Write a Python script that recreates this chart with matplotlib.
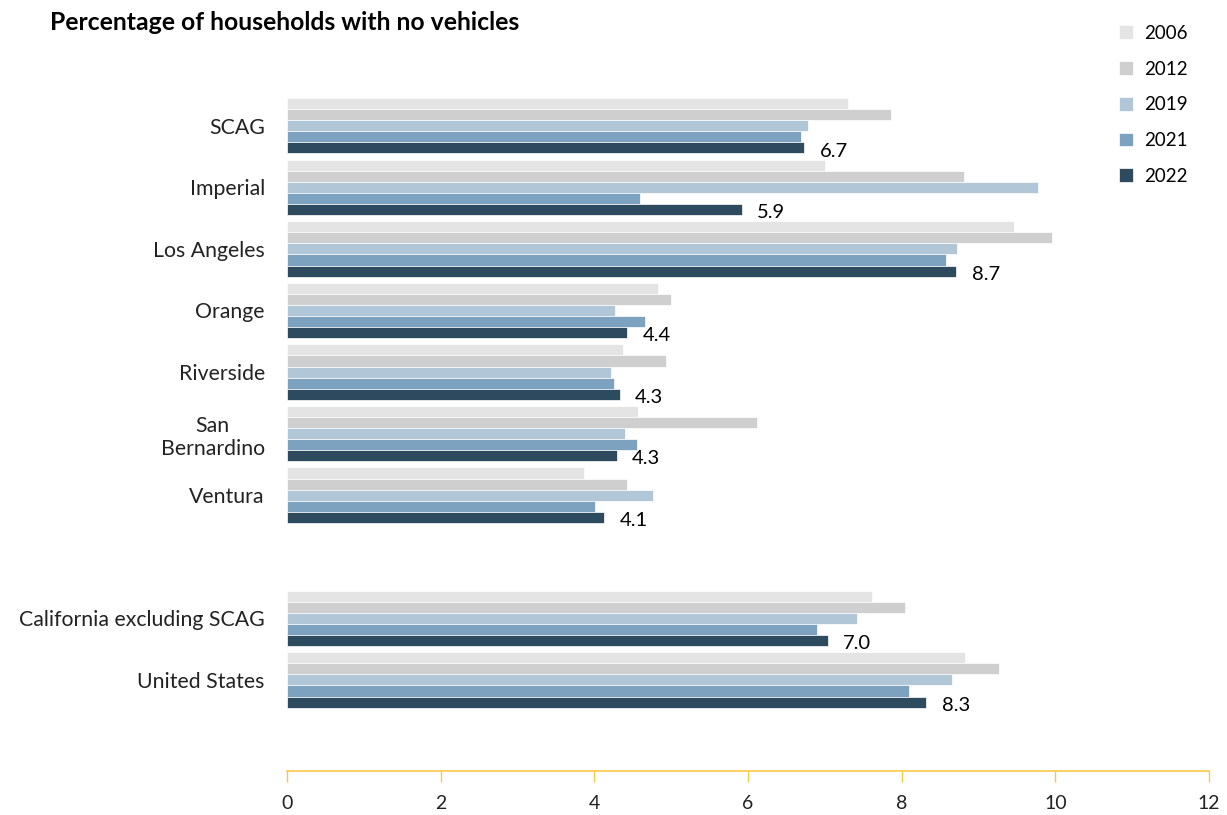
import numpy as np
import matplotlib.pyplot as plt

# Households with no vehicles, percent
regions = ["SCAG", "Imperial", "Los Angeles", "Orange", "Riverside",
           "San\nBernardino", "Ventura", "California excluding SCAG", "United States"]
years = ["2006", "2012", "2019", "2021", "2022"]

pct_2006 = [7.30, 7.00, 9.46, 4.83, 4.37, 4.57, 3.86, 7.62, 8.83]
pct_2012 = [7.86, 8.81, 9.96, 5.00, 4.93, 6.12, 4.43, 8.04, 9.27]
pct_2019 = [6.78, 9.78, 8.72, 4.27, 4.22, 4.40, 4.77, 7.42, 8.66]
pct_2021 = [6.69, 4.59, 8.58, 4.66, 4.26, 4.55, 4.01, 6.90, 8.09]
pct_2022 = [6.73, 5.92, 8.71, 4.43, 4.33, 4.29, 4.13, 7.04, 8.32]

colors = ["#E4E4E4", "#CFCFCF", "#B1C6D7", "#7CA2BF", "#2E4A5E"]
axis_color = "#F7C948"

plt.rcParams['font.family'] = ['Lato', 'DejaVu Sans']

series = [pct_2006, pct_2012, pct_2019, pct_2021, pct_2022]
# gap of one slot between the counties and the comparison rows
ypos = np.array([0, 1, 2, 3, 4, 5, 6, 8, 9], dtype=float)
bar_h = 0.18

fig = plt.figure(figsize=(12.27, 8.15), dpi=100)
ax = fig.add_axes([287 / 1227, 1 - 771 / 815, 922 / 1227, 676 / 815])

for i, (vals, col, yr) in enumerate(zip(series, colors, years)):
    offs = (i - 2) * bar_h
    ax.barh(ypos + offs, vals, height=bar_h, color=col, edgecolor="white",
            linewidth=0.5, label=yr)

# value labels next to the 2022 bars
for y, v in zip(ypos, pct_2022):
    ax.text(v + 0.2, y + 2 * bar_h + 0.05, f"{v:.1f}", va="center", ha="left",
            fontsize=14.5, color="black")

ax.set_xlim(0, 12)
ax.set_ylim(10.48, -0.5)
ax.set_xticks(range(0, 13, 2))
ax.set_yticks(ypos)
ax.set_yticklabels(regions, multialignment="center")
ax.tick_params(axis="y", length=0, pad=16, labelsize=15.3, colors="#222222")
ax.tick_params(axis="x", length=8, width=1, color=axis_color, pad=9,
               labelsize=14, labelcolor="#222222")

for side in ["top", "right", "left"]:
    ax.spines[side].set_visible(False)
ax.spines["bottom"].set_color(axis_color)
ax.spines["bottom"].set_linewidth(1.2)

fig.text(50 / 1227, 1 - 22 / 815, "Percentage of households with no vehicles",
         fontsize=17.8, fontweight="bold", va="center", ha="left")

leg = fig.legend(loc="upper right", bbox_to_anchor=(1205 / 1227, 1 - 8 / 815),
                 frameon=False, fontsize=13.5, handlelength=0.75, handleheight=0.75,
                 labelspacing=1.0, handletextpad=0.6)

fig.savefig("out.png", dpi=100)
